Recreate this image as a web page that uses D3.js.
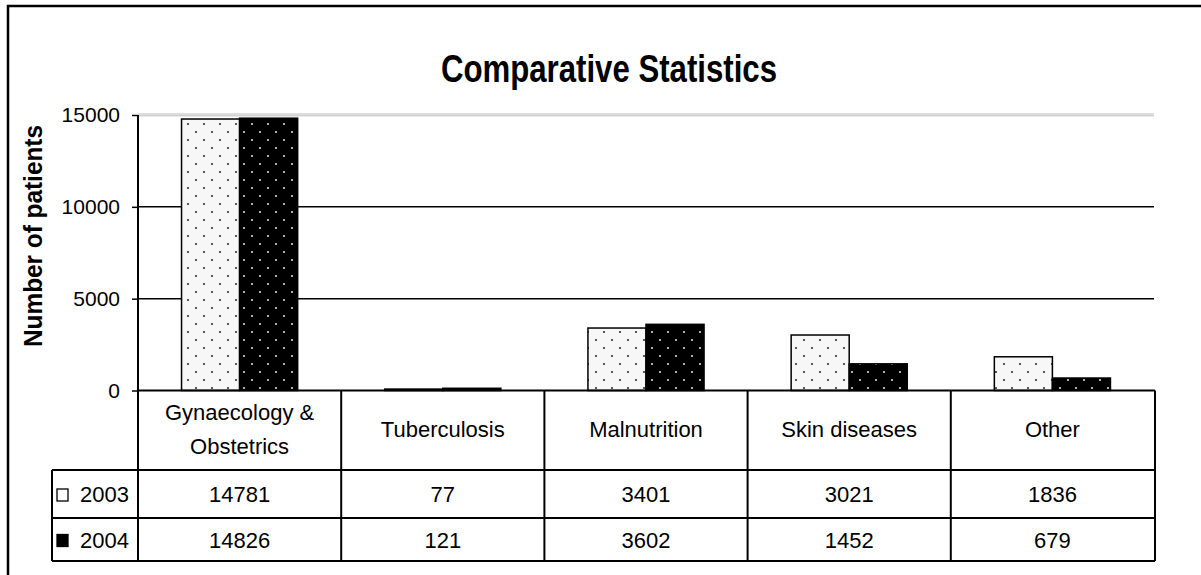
<!DOCTYPE html>
<meta charset="utf-8">
<style>
body { margin: 0; background: #fff; }
text { font-family: "Liberation Sans", Arial, sans-serif; fill: #000; }
.grid line { stroke: #000; stroke-width: 1.5; }
.tbl line { stroke: #000; stroke-width: 2; }
</style>
<body>
<script src="https://cdn.jsdelivr.net/npm/d3@7"></script>
<script>

var categories = ["Gynaecology & Obstetrics", "Tuberculosis", "Malnutrition", "Skin diseases", "Other"];
var seriesNames = ["2003", "2004"];
var values2003 = [14781, 77, 3401, 3021, 1836];
var values2004 = [14826, 121, 3602, 1452, 679];
var yTicks = [0, 5000, 10000, 15000];

var W = 1201, H = 575;
var plotLeft = 138, plotRight = 1154, plotTop = 115, plotBottom = 390.5;
var legendLeft = 52;
var headerBottom = 470, row1Bottom = 518, row2Bottom = 561;

var seriesValues = [values2003, values2004];
var fills = ["url(#p2003)", "url(#p2004)"];

var svg = d3.select("body").append("svg")
    .attr("width", W)
    .attr("height", H);

// dotted fills
var defs = svg.append("defs");
function dotPattern(id, bg, dot) {
  var p = defs.append("pattern")
      .attr("id", id)
      .attr("patternUnits", "userSpaceOnUse")
      .attr("width", 16).attr("height", 16);
  p.append("rect").attr("width", 16).attr("height", 16).attr("fill", bg);
  p.append("circle").attr("cx", 4).attr("cy", 4).attr("r", 1.1).attr("fill", dot);
  p.append("circle").attr("cx", 12).attr("cy", 12).attr("r", 1.1).attr("fill", dot);
}
dotPattern("p2003", "#f7f7f7", "#333");
dotPattern("p2004", "#000", "#d8d8d8");

// chart border
svg.append("rect")
    .attr("x", 8).attr("y", 6)
    .attr("width", W + 20).attr("height", H + 20)
    .attr("fill", "none").attr("stroke", "#000").attr("stroke-width", 2.5);

var x = d3.scaleBand()
    .domain(categories)
    .range([plotLeft, plotRight]);

var xs = d3.scaleBand()
    .domain(seriesNames)
    .range([0, x.bandwidth()])
    .paddingOuter(0.75);

var y = d3.scaleLinear()
    .domain([0, 15000])
    .range([plotBottom, plotTop]);

// gridlines
svg.append("g").attr("class", "grid")
  .selectAll("line")
  .data(yTicks.filter(function(d) { return d > 0 && d < 15000; }))
  .enter().append("line")
    .attr("x1", plotLeft).attr("x2", plotRight)
    .attr("y1", function(d) { return y(d); })
    .attr("y2", function(d) { return y(d); });

svg.append("line")
    .attr("x1", plotLeft).attr("x2", plotRight)
    .attr("y1", y(15000) - 1).attr("y2", y(15000) - 1)
    .attr("stroke", "#bbb").attr("stroke-width", 1);
svg.append("line")
    .attr("x1", plotLeft).attr("x2", plotRight)
    .attr("y1", y(15000) + 0.8).attr("y2", y(15000) + 0.8)
    .attr("stroke", "#bbb").attr("stroke-width", 1);

// bars
seriesNames.forEach(function(s, si) {
  svg.append("g")
    .selectAll("rect")
    .data(seriesValues[si])
    .enter().append("rect")
      .attr("x", function(d, i) { return x(categories[i]) + xs(s); })
      .attr("y", function(d) { return y(d); })
      .attr("width", xs.bandwidth())
      .attr("height", function(d) { return y(0) - y(d); })
      .attr("fill", fills[si])
      .attr("stroke", "#000")
      .attr("stroke-width", 1.5);
});

// y axis
var yAxis = svg.append("g")
    .attr("transform", "translate(" + plotLeft + ",0)")
    .call(d3.axisLeft(y).tickValues(yTicks).tickFormat(d3.format("d"))
      .tickSize(6).tickSizeOuter(0).tickPadding(12));
yAxis.select(".domain").remove();
yAxis.selectAll(".tick line").attr("stroke", "#000").attr("stroke-width", 1.5);
yAxis.selectAll(".tick text")
    .style("font-family", "'Liberation Sans', Arial, sans-serif")
    .style("font-size", "21px")
    .attr("fill", "#000");

// data table
var tbl = svg.append("g").attr("class", "tbl");
var edges = categories.map(function(c) { return x(c); }).concat([plotRight + 1]);

tbl.append("line").attr("x1", plotLeft).attr("x2", plotRight + 1).attr("y1", plotBottom).attr("y2", plotBottom);
[headerBottom, row1Bottom, row2Bottom].forEach(function(yy) {
  tbl.append("line").attr("x1", legendLeft).attr("x2", plotRight + 1).attr("y1", yy).attr("y2", yy);
});
tbl.append("line").attr("x1", legendLeft).attr("x2", legendLeft).attr("y1", headerBottom).attr("y2", row2Bottom);
tbl.append("line").attr("x1", plotLeft).attr("x2", plotLeft).attr("y1", plotTop).attr("y2", row2Bottom);
tbl.selectAll(".col")
  .data(edges.slice(1))
  .enter().append("line")
    .attr("x1", function(d) { return d; }).attr("x2", function(d) { return d; })
    .attr("y1", plotBottom).attr("y2", row2Bottom);

// category headers, wrapped to fit their cells
var headers = svg.append("g")
  .selectAll("text")
  .data(categories)
  .enter().append("text")
    .attr("text-anchor", "middle")
    .style("font-size", "22px")
    .attr("x", function(d) { return x(d) + x.bandwidth() / 2; });

headers.each(function(d) {
  var t = d3.select(this);
  var words = d.split(" "), lines = [], line = [];
  words.forEach(function(w) {
    line.push(w);
    t.text(line.join(" "));
    if (this.getComputedTextLength() > x.bandwidth() - 30 && line.length > 1) {
      line.pop();
      lines.push(line.join(" "));
      line = [w];
    }
  }, this);
  lines.push(line.join(" "));
  t.text(null);
  var lh = 34, mid = (plotBottom + headerBottom) / 2 + 7;
  lines.forEach(function(l, li) {
    t.append("tspan")
      .attr("x", x(d) + x.bandwidth() / 2)
      .attr("y", mid + (li - (lines.length - 1) / 2) * lh)
      .text(l);
  });
});

// values rows
var rowMids = [(headerBottom + row1Bottom) / 2, (row1Bottom + row2Bottom) / 2];
seriesNames.forEach(function(s, si) {
  svg.append("g")
    .selectAll("text")
    .data(seriesValues[si])
    .enter().append("text")
      .attr("text-anchor", "middle")
      .style("font-size", "22px")
      .attr("x", function(d, i) { return x(categories[i]) + x.bandwidth() / 2; })
      .attr("y", rowMids[si] + 8)
      .text(function(d) { return d; });

  // legend key
  svg.append("rect")
      .attr("x", legendLeft + 5).attr("y", rowMids[si] - 5)
      .attr("width", 11).attr("height", 12)
      .attr("fill", si === 0 ? "#fff" : "#000")
      .attr("stroke", "#000").attr("stroke-width", 1.3);
  svg.append("text")
      .attr("x", legendLeft + 28).attr("y", rowMids[si] + 8)
      .style("font-size", "22px")
      .text(s);
});

// title
svg.append("text")
    .attr("x", 609).attr("y", 82)
    .attr("text-anchor", "middle")
    .style("font-size", "38px")
    .style("font-weight", "bold")
    .attr("textLength", 336)
    .attr("lengthAdjust", "spacingAndGlyphs")
    .text("Comparative Statistics");

// y axis label
svg.append("text")
    .attr("transform", "translate(42,236) rotate(-90)")
    .attr("text-anchor", "middle")
    .style("font-size", "26px")
    .style("font-weight", "bold")
    .attr("textLength", 222)
    .attr("lengthAdjust", "spacingAndGlyphs")
    .text("Number of patients");

</script>
</body>
